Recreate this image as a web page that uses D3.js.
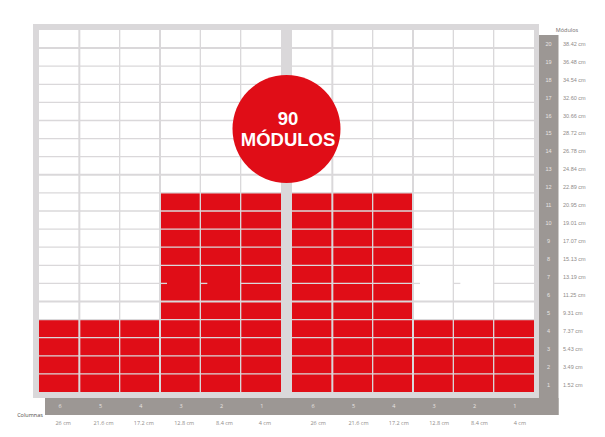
<!DOCTYPE html>
<html>
<head>
<meta charset="utf-8">
<script src="https://cdn.jsdelivr.net/npm/d3@7"></script>
<style>
  body { margin: 0; background: #fff; }
  svg { display: block; font-family: "Open Sans", sans-serif; }
</style>
</head>
<body>
<script>
// data
const columnLabels = ["6", "5", "4", "3", "2", "1"];
const columnCm = ["26 cm", "21.6 cm", "17.2 cm", "12.8 cm", "8.4 cm", "4 cm"];
const moduleLabels = d3.range(1, 21);
const moduleCm = ["1.52 cm", "3.49 cm", "5.43 cm", "7.37 cm", "9.31 cm", "11.25 cm", "13.19 cm",
  "15.13 cm", "17.07 cm", "19.01 cm", "20.95 cm", "22.89 cm", "24.84 cm", "26.78 cm",
  "28.72 cm", "30.66 cm", "32.60 cm", "34.54 cm", "36.48 cm", "38.42 cm"];
// filled modules per column, left block then right block
const filled = [4, 4, 4, 11, 11, 11, 11, 11, 11, 4, 4, 4];
const totalLabel = ["90", "MÓDULOS"];
// row boundaries missing in the drawing: [column, boundary]
const missingLines = [[3, 6], [4, 6], [9, 6], [10, 6]];

// constants
const width = 605, height = 437;
const red = "#e00d17", frame = "#dad8da", bar = "#9c9794";

const svg = d3.select("body").append("svg")
  .attr("width", width)
  .attr("height", height);

// scales
const xLeft = d3.scaleBand().domain(d3.range(6)).range([39, 281]);
const xRight = d3.scaleBand().domain(d3.range(6)).range([292, 534]);
const colX = i => i < 6 ? xLeft(i) : xRight(i - 6);
const colW = xLeft.bandwidth();
const y = d3.scaleLinear().domain([0, 20]).range([392, 30]);
const yLabel = d3.scaleBand().domain(moduleLabels).range([394, 35]);

// frame and white area
svg.append("rect").attr("x", 33).attr("y", 24).attr("width", 506).attr("height", 374).attr("fill", frame);
svg.append("rect").attr("x", 39).attr("y", 30).attr("width", 242).attr("height", 362).attr("fill", "#fff");
svg.append("rect").attr("x", 292).attr("y", 30).attr("width", 242).attr("height", 362).attr("fill", "#fff");

// gray bars
svg.append("rect").attr("x", 539).attr("y", 35).attr("width", 19.5).attr("height", 380).attr("fill", bar);
svg.append("rect").attr("x", 45).attr("y", 398).attr("width", 513.5).attr("height", 17).attr("fill", bar);

// red modules
svg.append("g").selectAll("rect")
  .data(filled)
  .join("rect")
  .attr("x", (d, i) => colX(i))
  .attr("y", d => y(d))
  .attr("width", colW)
  .attr("height", d => y(0) - y(d))
  .attr("fill", red);

// grid lines
const grid = svg.append("g").attr("stroke", frame);
const cols = d3.range(12);
d3.range(1, 20).forEach(b => {
  cols.forEach(c => {
    const miss = missingLines.some(m => m[0] === c && m[1] === b);
    grid.append("line")
      .attr("x1", colX(c))
      .attr("x2", miss ? colX(c) + 7 : colX(c) + colW)
      .attr("y1", y(b))
      .attr("y2", y(b))
      .attr("stroke-width", (b === 19 || b === 12 || b === 5) ? 2 : 1.3);
  });
});
[1, 2, 3, 4, 5, 7, 8, 9, 10, 11].forEach(c => {
  grid.append("line")
    .attr("x1", colX(c)).attr("x2", colX(c))
    .attr("y1", 30).attr("y2", 392)
    .attr("stroke-width", (c % 6 === 1 || c % 6 === 3) ? 2 : 1.3);
});

// right axis: modules
const modAxis = svg.append("g")
  .attr("transform", "translate(548.5,0)")
  .call(d3.axisRight(yLabel).tickSize(0).tickPadding(0));
modAxis.select(".domain").remove();
modAxis.selectAll("text")
  .attr("text-anchor", "middle")
  .attr("fill", "#e8e5e3")
  .style("font-size", "5.5px");

const cmAxis = svg.append("g")
  .attr("transform", "translate(563,0)")
  .call(d3.axisRight(yLabel).tickSize(0).tickPadding(0).tickFormat((d, i) => moduleCm[i]));
cmAxis.select(".domain").remove();
cmAxis.selectAll("text")
  .attr("fill", "#8f8b89")
  .style("font-size", "5.5px");

svg.append("text")
  .attr("x", 567).attr("y", 32)
  .attr("text-anchor", "middle")
  .attr("fill", "#6f6b69")
  .style("font-size", "5.5px")
  .text("Módulos");

// bottom: columns
const bottom = svg.append("g");
cols.forEach(c => {
  const cx = colX(c) + colW / 2 + 1;
  bottom.append("text")
    .attr("x", cx).attr("y", 408)
    .attr("text-anchor", "middle")
    .attr("fill", "#e8e5e3")
    .style("font-size", "5.5px")
    .text(columnLabels[c % 6]);
  bottom.append("text")
    .attr("x", cx + (c < 6 ? 3 : 5)).attr("y", 425)
    .attr("text-anchor", "middle")
    .attr("fill", "#8f8b89")
    .style("font-size", "5.5px")
    .text(columnCm[c % 6]);
});
svg.append("text")
  .attr("x", 30).attr("y", 417)
  .attr("text-anchor", "middle")
  .attr("fill", "#4f4b49")
  .style("font-size", "5.5px")
  .text("Columnas");

// total badge
svg.append("circle")
  .attr("cx", 286.5).attr("cy", 129).attr("r", 54)
  .attr("fill", red);
svg.append("text")
  .attr("text-anchor", "middle")
  .attr("fill", "#fff")
  .style("font-family", "'Liberation Sans', Arial, sans-serif")
  .style("font-size", "18.5px")
  .style("font-weight", "700")
  .selectAll("tspan")
  .data(totalLabel)
  .join("tspan")
  .attr("x", 288)
  .attr("y", (d, i) => 125 + i * 20.8)
  .text(d => d);
</script>
</body>
</html>
